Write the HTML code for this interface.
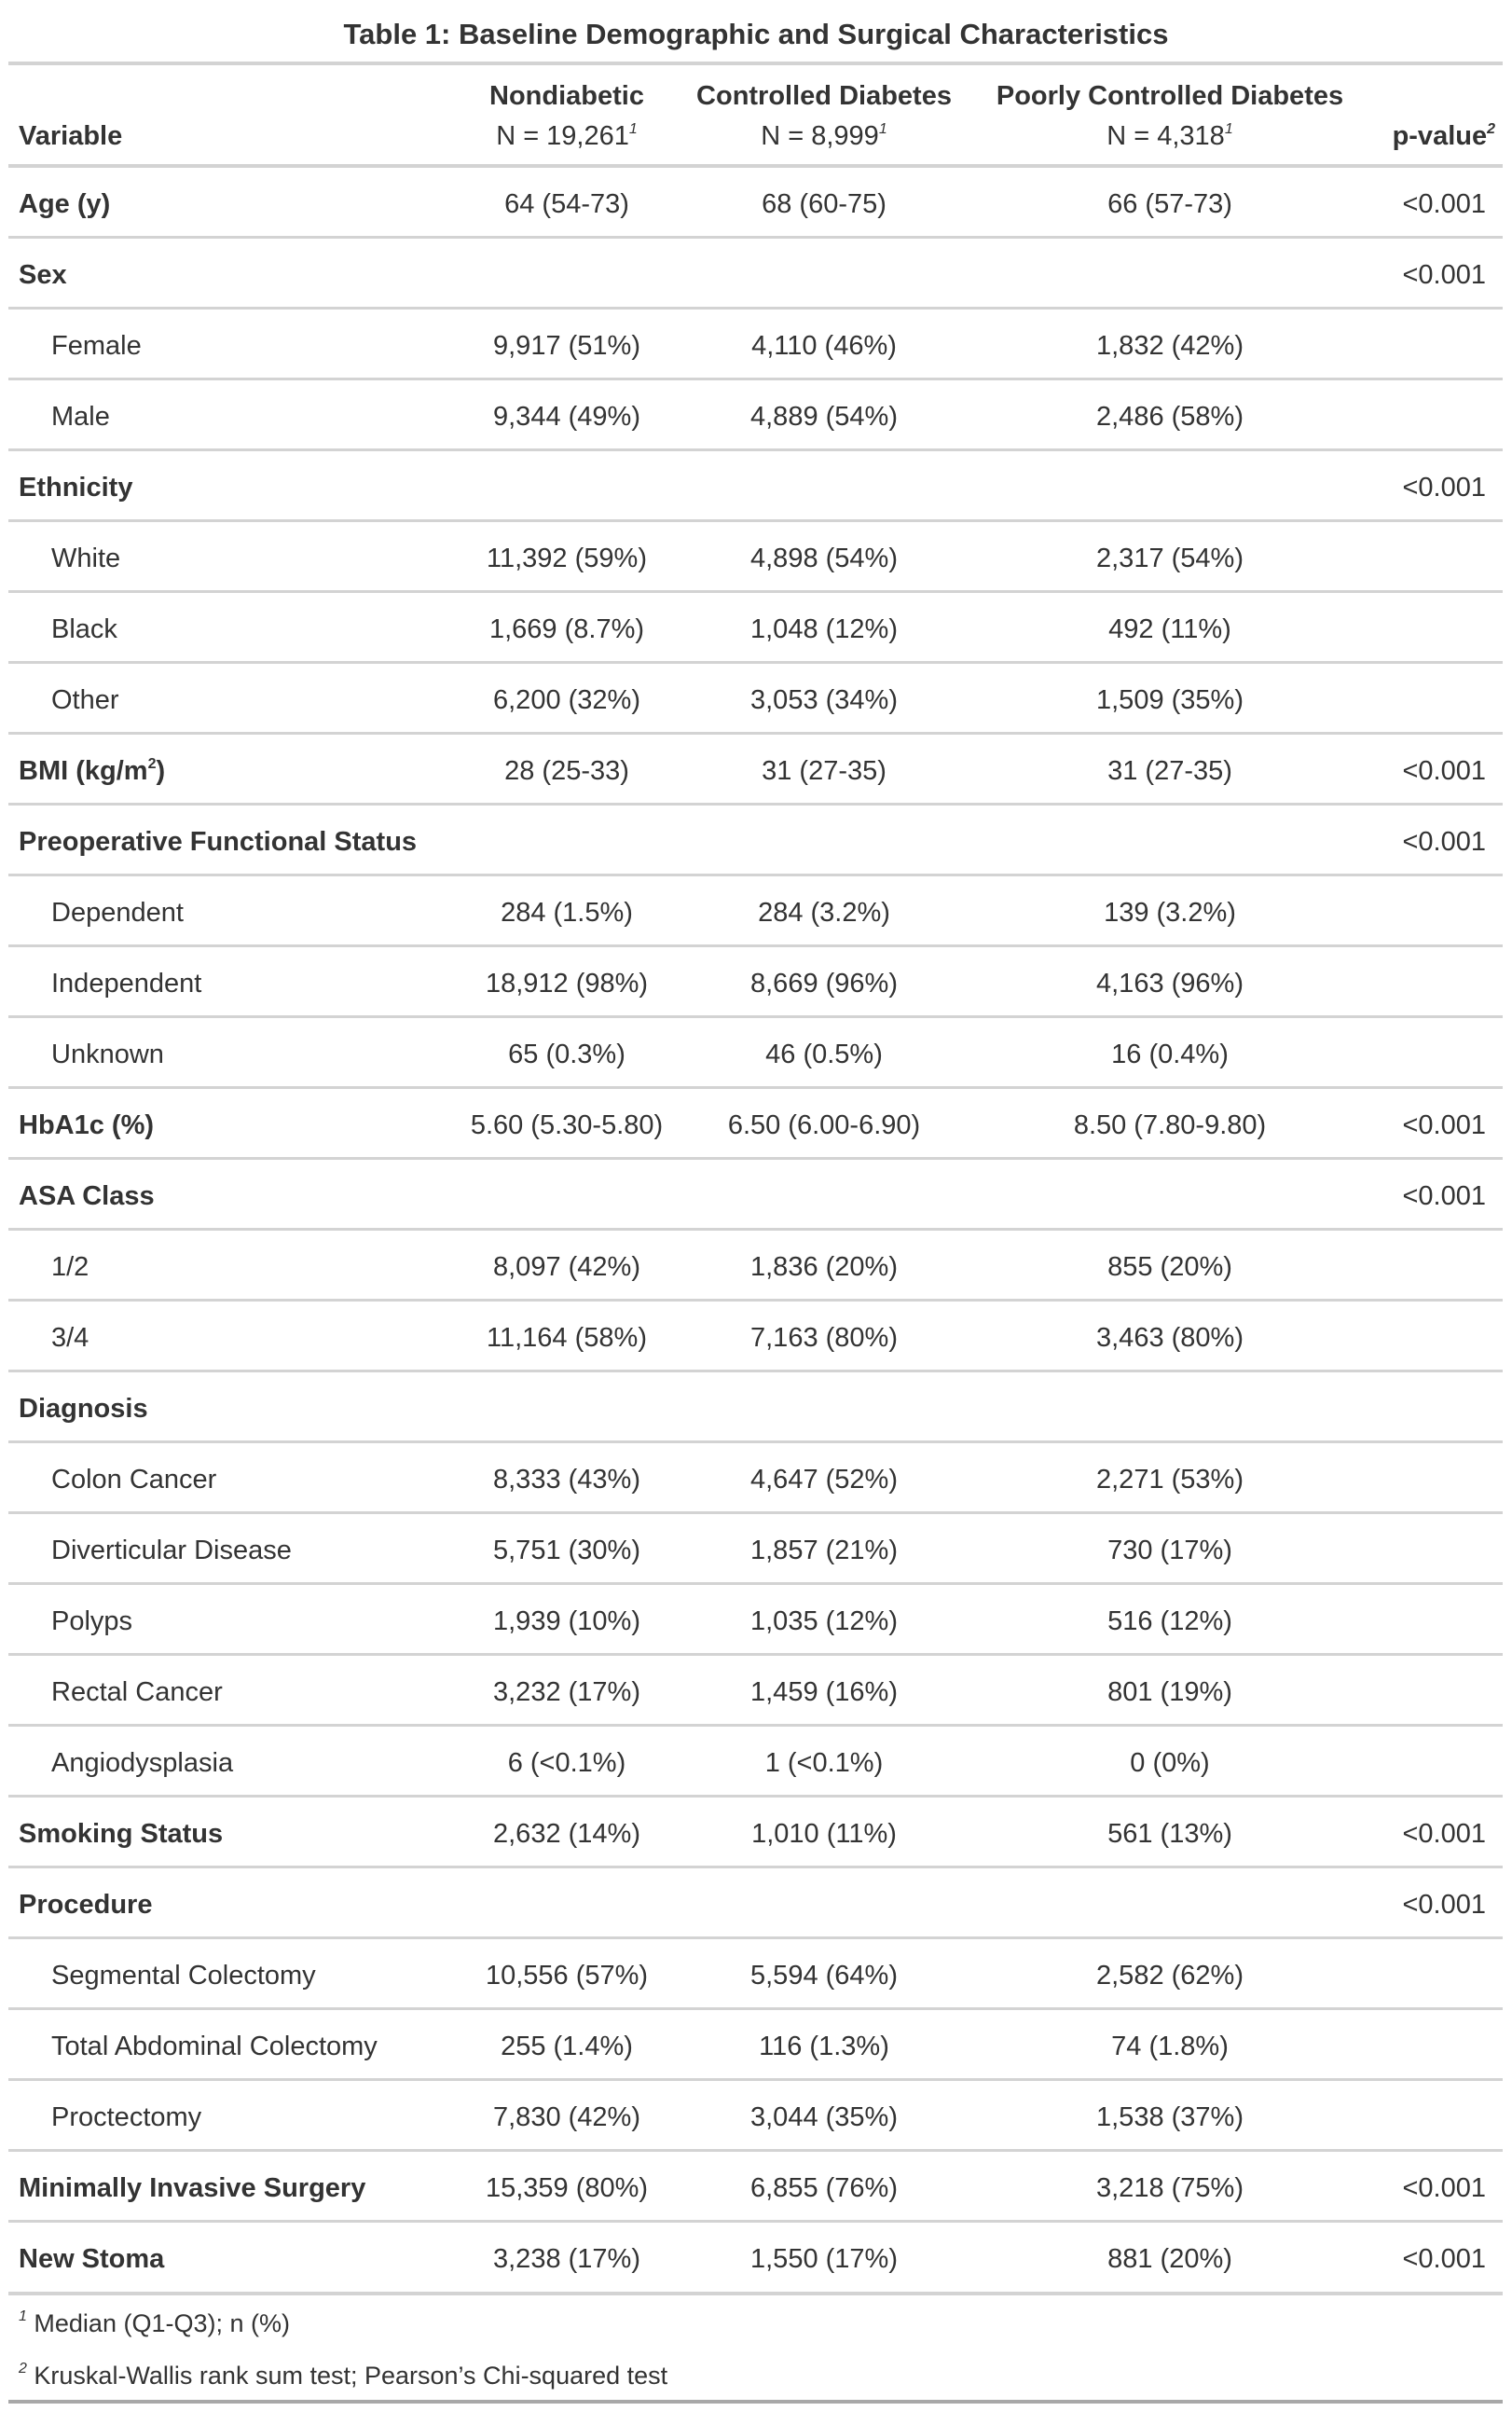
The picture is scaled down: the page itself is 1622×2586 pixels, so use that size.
<!DOCTYPE html>
<html><head><meta charset="utf-8"><style>
body{margin:0;background:#fff;width:1622px;height:2586px;position:relative;font-family:"Liberation Sans",sans-serif;color:#333;overflow:hidden}
.t{position:absolute;left:0;width:1622px;top:19px;text-align:center;font-weight:bold;font-size:31px;color:#333}
.hl{position:absolute;left:9px;width:1603px;background:#d3d3d3}
.r{position:absolute;left:0;width:1622px;height:76px;font-size:29px}
.r div{position:absolute;top:3px;line-height:76px;white-space:nowrap}
.c1{left:20px}.c1.i{left:55px}
.c2{left:490px;width:236px;text-align:center}
.c3{left:726px;width:316px;text-align:center}
.c4{left:1042px;width:426px;text-align:center}
.c5{left:1468px;width:126px;text-align:right}
b{font-weight:bold}
sup{font-size:16px;font-style:italic;vertical-align:12px;line-height:0}
.hd{position:absolute;font-size:29px;white-space:nowrap}
.fn{position:absolute;left:20px;font-size:27px}
</style></head><body>
<div class="t">Table 1: Baseline Demographic and Surgical Characteristics</div>
<div class="hl" style="top:66px;height:4px"></div>
<div class="hd" style="left:490px;width:236px;text-align:center;top:87px;font-weight:bold">Nondiabetic</div>
<div class="hd" style="left:706px;width:356px;text-align:center;top:87px;font-weight:bold">Controlled Diabetes</div>
<div class="hd" style="left:1042px;width:426px;text-align:center;top:87px;font-weight:bold">Poorly Controlled Diabetes</div>
<div class="hd" style="left:20px;top:130px;font-weight:bold">Variable</div>
<div class="hd" style="left:490px;width:236px;text-align:center;top:130px">N = 19,261<sup>1</sup></div>
<div class="hd" style="left:726px;width:316px;text-align:center;top:130px">N = 8,999<sup>1</sup></div>
<div class="hd" style="left:1042px;width:426px;text-align:center;top:130px">N = 4,318<sup>1</sup></div>
<div class="hd" style="left:1468px;width:136px;text-align:right;top:130px;font-weight:bold">p-value<sup>2</sup></div>
<div class="hl" style="top:176px;height:4px"></div>
<div id="rows"></div>
<script>
var R=[["Age (y)",1,"64 (54-73)","68 (60-75)","66 (57-73)","<0.001"],
["Sex",1,"","","","<0.001"],["Female",0,"9,917 (51%)","4,110 (46%)","1,832 (42%)",""],["Male",0,"9,344 (49%)","4,889 (54%)","2,486 (58%)",""],
["Ethnicity",1,"","","","<0.001"],["White",0,"11,392 (59%)","4,898 (54%)","2,317 (54%)",""],["Black",0,"1,669 (8.7%)","1,048 (12%)","492 (11%)",""],["Other",0,"6,200 (32%)","3,053 (34%)","1,509 (35%)",""],
["BMI (kg/m<sup style='font-style:normal'>2</sup>)",1,"28 (25-33)","31 (27-35)","31 (27-35)","<0.001"],
["Preoperative Functional Status",1,"","","","<0.001"],["Dependent",0,"284 (1.5%)","284 (3.2%)","139 (3.2%)",""],["Independent",0,"18,912 (98%)","8,669 (96%)","4,163 (96%)",""],["Unknown",0,"65 (0.3%)","46 (0.5%)","16 (0.4%)",""],
["HbA1c (%)",1,"5.60 (5.30-5.80)","6.50 (6.00-6.90)","8.50 (7.80-9.80)","<0.001"],
["ASA Class",1,"","","","<0.001"],["1/2",0,"8,097 (42%)","1,836 (20%)","855 (20%)",""],["3/4",0,"11,164 (58%)","7,163 (80%)","3,463 (80%)",""],
["Diagnosis",1,"","","",""],["Colon Cancer",0,"8,333 (43%)","4,647 (52%)","2,271 (53%)",""],["Diverticular Disease",0,"5,751 (30%)","1,857 (21%)","730 (17%)",""],["Polyps",0,"1,939 (10%)","1,035 (12%)","516 (12%)",""],["Rectal Cancer",0,"3,232 (17%)","1,459 (16%)","801 (19%)",""],["Angiodysplasia",0,"6 (&lt;0.1%)","1 (&lt;0.1%)","0 (0%)",""],
["Smoking Status",1,"2,632 (14%)","1,010 (11%)","561 (13%)","<0.001"],
["Procedure",1,"","","","<0.001"],["Segmental Colectomy",0,"10,556 (57%)","5,594 (64%)","2,582 (62%)",""],["Total Abdominal Colectomy",0,"255 (1.4%)","116 (1.3%)","74 (1.8%)",""],["Proctectomy",0,"7,830 (42%)","3,044 (35%)","1,538 (37%)",""],
["Minimally Invasive Surgery",1,"15,359 (80%)","6,855 (76%)","3,218 (75%)","<0.001"],["New Stoma",1,"3,238 (17%)","1,550 (17%)","881 (20%)","<0.001"]];
var h="";R.forEach(function(r,i){var y=178+i*76;
h+='<div class="r" style="top:'+y+'px"><div class="c1'+(r[1]?'':' i')+'">'+(r[1]?'<b>'+r[0]+'</b>':r[0])+'</div><div class="c2">'+r[2]+'</div><div class="c3">'+r[3]+'</div><div class="c4">'+r[4]+'</div><div class="c5">'+r[5].replace('<','&lt;')+'</div></div>';
if(i<R.length-1)h+='<div class="hl" style="top:'+(y+75)+'px;height:3px"></div>';});
document.getElementById("rows").innerHTML=h;
</script>
<div class="hl" style="top:2458px;height:4px"></div>
<div class="fn" style="top:2477px"><sup>1</sup> Median (Q1-Q3); n (%)</div>
<div class="fn" style="top:2533px"><sup>2</sup> Kruskal-Wallis rank sum test; Pearson’s Chi-squared test</div>
<div class="hl" style="top:2574px;height:4px;background:#a8a8a8"></div>
</body></html>
